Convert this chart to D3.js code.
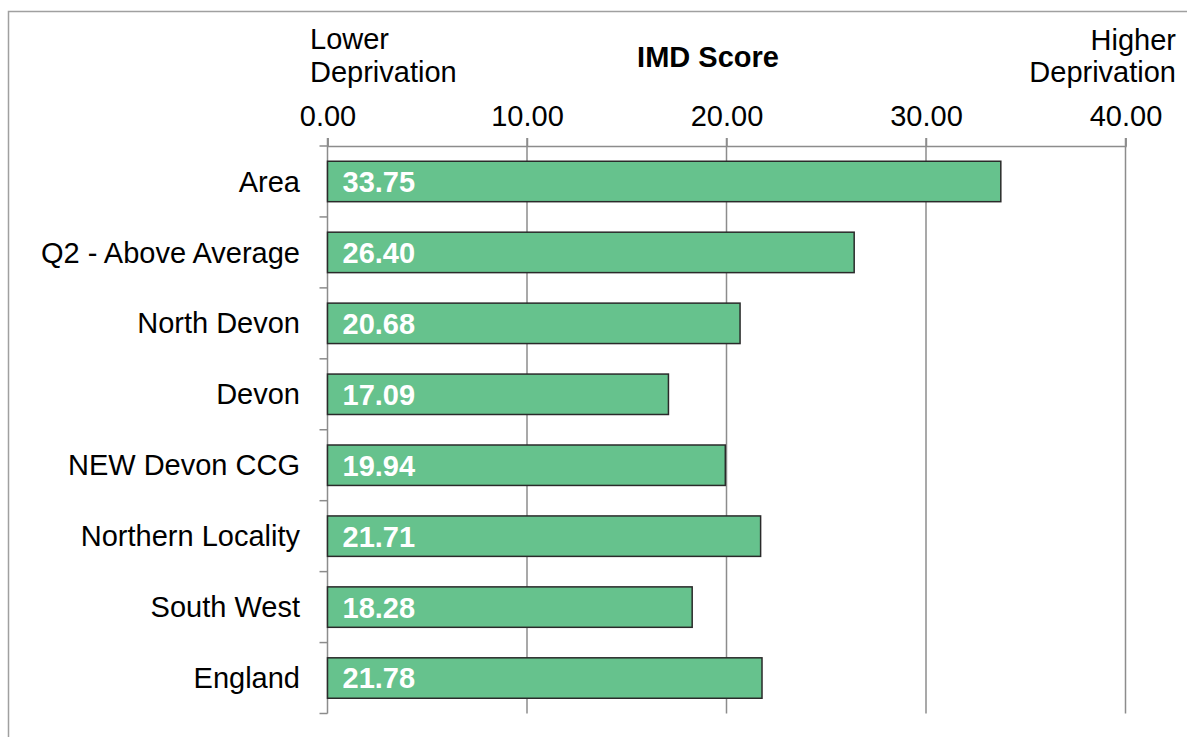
<!DOCTYPE html>
<html><head><meta charset="utf-8">
<script src="https://cdn.jsdelivr.net/npm/d3@7"></script>
<style>
html,body{margin:0;padding:0;background:#fff;}
svg{display:block;font-family:"Liberation Sans",Arial,sans-serif;}
</style></head>
<body>
<svg id="chart" width="1187" height="737"></svg>
<script>
const categories = ["Area","Q2 - Above Average","North Devon","Devon","NEW Devon CCG","Northern Locality","South West","England"];
const values = [33.75,26.40,20.68,17.09,19.94,21.71,18.28,21.78];
const tickValues = [0,10,20,30,40];

(function(){
const svg = d3.select("#chart");
const pLeft = 327.5, pRight = 1125.5, pTop = 146, pBottom = 713.5;
const fs = 29;

svg.append("rect").attr("x",8.5).attr("y",11.5).attr("width",1200).attr("height",760)
  .attr("fill","#fff").attr("stroke","#a0a0a0").attr("stroke-width",1.5);

const x = d3.scaleLinear().domain([0,40]).range([pLeft,pRight]);
const y = d3.scaleBand().domain(categories).range([pTop,pBottom]).paddingInner(0.43).paddingOuter(0.215);
const yb = d3.scaleBand().domain(categories).range([pTop,pBottom]);

// gridlines
svg.append("g").selectAll("line").data(tickValues.filter(d=>d>0)).join("line")
  .attr("x1",d=>x(d)).attr("x2",d=>x(d)).attr("y1",pTop-8).attr("y2",pBottom)
  .attr("stroke","#8c8c8c").attr("stroke-width",1.5);

// top axis
const xAxis = d3.axisTop(x).tickValues(tickValues).tickFormat(d3.format(".2f")).tickSize(8).tickPadding(12);
const gx = svg.append("g").attr("transform",`translate(0,${pTop})`).call(xAxis);
gx.select(".domain").attr("stroke","#8c8c8c").attr("stroke-width",1.5);
gx.selectAll(".tick line").attr("stroke","#8c8c8c").attr("stroke-width",1.5);
gx.selectAll(".tick text").attr("font-size",fs).attr("fill","#000").attr("font-family","Liberation Sans, Arial, sans-serif");

// left axis line & ticks at band boundaries
const boundaries = categories.map(c=>yb(c)).concat([pBottom]);
svg.append("line").attr("x1",pLeft).attr("x2",pLeft).attr("y1",pTop-8).attr("y2",pBottom)
  .attr("stroke","#8c8c8c").attr("stroke-width",1.5);
svg.append("g").selectAll("line").data(boundaries).join("line")
  .attr("x1",pLeft-8).attr("x2",pLeft).attr("y1",d=>d).attr("y2",d=>d)
  .attr("stroke","#8c8c8c").attr("stroke-width",1.5);

// category labels
svg.append("g").selectAll("text").data(categories).join("text")
  .attr("x",300).attr("y",d=>yb(d)+yb.bandwidth()/2).attr("dy","0.35em")
  .attr("text-anchor","end").attr("font-size",fs).attr("fill","#000").text(d=>d);

// bars
const data = categories.map((c,i)=>({c,v:values[i]}));
svg.append("g").selectAll("rect").data(data).join("rect")
  .attr("x",x(0)).attr("y",d=>y(d.c)).attr("width",d=>x(d.v)-x(0)).attr("height",y.bandwidth())
  .attr("fill","#66c28d").attr("stroke","#2a2a2a").attr("stroke-width",1.5);

// value labels
svg.append("g").selectAll("text").data(data).join("text")
  .attr("x",x(0)+15).attr("y",d=>y(d.c)+y.bandwidth()/2).attr("dy","0.36em")
  .attr("font-size",fs).attr("font-weight","bold").attr("fill","#fff").text(d=>d.v.toFixed(2));

// titles
svg.append("text").attr("x",708).attr("y",67).attr("text-anchor","middle")
  .attr("font-size",fs).attr("font-weight","bold").text("IMD Score");
const lo = svg.append("text").attr("font-size",fs);
lo.append("tspan").attr("x",310).attr("y",49).text("Lower");
lo.append("tspan").attr("x",310).attr("y",81.5).text("Deprivation");
const hi = svg.append("text").attr("text-anchor","end").attr("font-size",fs);
hi.append("tspan").attr("x",1176).attr("y",50).text("Higher");
hi.append("tspan").attr("x",1176).attr("y",81.5).text("Deprivation");
})();
</script>
</body></html>
